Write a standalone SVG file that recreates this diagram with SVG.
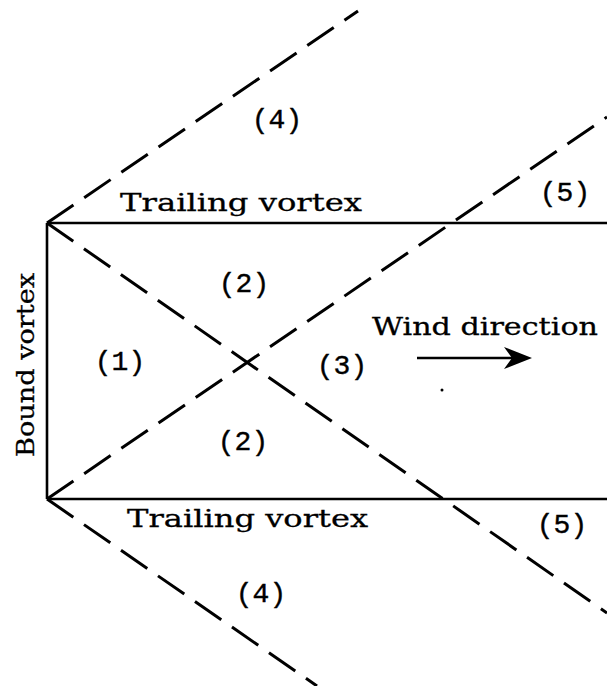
<svg xmlns="http://www.w3.org/2000/svg" width="607" height="686" viewBox="0 0 607 686">
  <style>
    .solid { stroke: #000; stroke-width: 2.6; fill: none; }
    .dash { stroke: #000; stroke-width: 3; fill: none; stroke-dasharray: 32 13; }
    .lbl { font-family: "DejaVu Serif", "Liberation Serif", serif; font-size: 25px; fill: #000; stroke: #000; stroke-width: 0.3; }
    .num { font-family: "Liberation Mono", "Courier New", monospace; font-size: 28px; fill: #000; stroke: #000; stroke-width: 0.4; text-anchor: middle; }
  </style>
  <rect width="607" height="686" fill="#fff"/>
  <g id="connectors">
    <line class="solid" x1="47" y1="223" x2="47" y2="499"/>
    <line class="solid" x1="47" y1="223" x2="607" y2="223"/>
    <line class="solid" x1="47" y1="499" x2="607" y2="499"/>
    <line class="dash" x1="47" y1="223" x2="358" y2="11"/>
    <line class="dash" x1="47" y1="223" x2="607" y2="613"/>
    <line class="dash" x1="47" y1="499" x2="607" y2="117"/>
    <line class="dash" x1="47" y1="499" x2="317" y2="686"/>
    <line class="solid" x1="417" y1="358" x2="515" y2="358"/>
    <path d="M532,358 L504,347 L512,358 L504,369 Z" fill="#000"/>
  </g>
  <g id="bound-vortex">
    <text class="lbl" x="34" y="365" text-anchor="middle" transform="rotate(-90 34 365)" textLength="184" lengthAdjust="spacingAndGlyphs">Bound vortex</text>
  </g>
  <g id="trailing-top">
    <text class="lbl" x="120" y="211" textLength="242" lengthAdjust="spacingAndGlyphs">Trailing vortex</text>
  </g>
  <g id="trailing-bottom">
    <text class="lbl" x="127" y="527" textLength="241" lengthAdjust="spacingAndGlyphs">Trailing vortex</text>
  </g>
  <g id="wind-direction">
    <text class="lbl" x="372" y="335" textLength="226" lengthAdjust="spacingAndGlyphs">Wind direction</text>
  </g>
  <g id="region-4-top"><text class="num" x="277" y="128">(4)</text></g>
  <g id="region-5-top"><text class="num" x="565" y="201">(5)</text></g>
  <g id="region-2-top"><text class="num" x="244" y="292">(2)</text></g>
  <g id="region-1"><text class="num" x="120" y="370">(1)</text></g>
  <g id="region-3"><text class="num" x="342" y="374">(3)</text></g>
  <g id="region-2-bottom"><text class="num" x="243" y="450">(2)</text></g>
  <g id="region-5-bottom"><text class="num" x="562" y="533">(5)</text></g>
  <g id="region-4-bottom"><text class="num" x="261" y="602">(4)</text></g>
  <circle cx="442" cy="390" r="1.5" fill="#000"/>
</svg>
